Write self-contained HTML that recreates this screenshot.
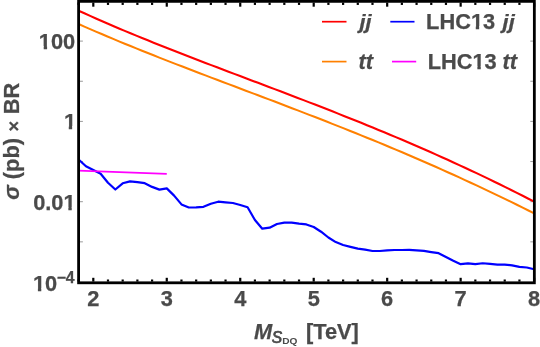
<!DOCTYPE html>
<html><head><meta charset="utf-8"><title>plot</title>
<style>
html,body{margin:0;padding:0;background:#fff;}
body{width:540px;height:347px;overflow:hidden;}
svg{display:block;}
text{font-family:"Liberation Sans",sans-serif;font-weight:bold;font-size:21.8px;fill:#4a4a4a;stroke:#4a4a4a;stroke-width:0.25px;stroke-linejoin:miter;}
.it{font-style:italic;}
</style></head><body>
<svg width="540" height="347" viewBox="0 0 540 347" style="will-change:transform">
<rect x="0" y="0" width="540" height="347" fill="#ffffff"/>
<g stroke="#555" stroke-width="0.6">
<line x1="80.00" y1="241.85" x2="82.90" y2="241.85"/>
<line x1="532.95" y1="241.85" x2="530.35" y2="241.85"/>
<line x1="80.00" y1="201.70" x2="82.90" y2="201.70"/>
<line x1="532.95" y1="201.70" x2="530.35" y2="201.70"/>
<line x1="80.00" y1="161.55" x2="82.90" y2="161.55"/>
<line x1="532.95" y1="161.55" x2="530.35" y2="161.55"/>
<line x1="80.00" y1="121.40" x2="82.90" y2="121.40"/>
<line x1="532.95" y1="121.40" x2="530.35" y2="121.40"/>
<line x1="80.00" y1="81.25" x2="82.90" y2="81.25"/>
<line x1="532.95" y1="81.25" x2="530.35" y2="81.25"/>
<line x1="80.00" y1="41.10" x2="82.90" y2="41.10"/>
<line x1="532.95" y1="41.10" x2="530.35" y2="41.10"/>
</g>
<g fill="none" stroke-linejoin="round" stroke-linecap="butt">
<path d="M78.60,24.01 L84.37,26.57 L90.13,29.09 L95.90,31.59 L101.67,34.06 L107.44,36.51 L113.20,38.93 L118.97,41.33 L124.74,43.71 L130.50,46.07 L136.27,48.41 L142.04,50.73 L147.81,53.03 L153.57,55.32 L159.34,57.60 L165.11,59.86 L170.87,62.11 L176.64,64.35 L182.41,66.57 L188.17,68.79 L193.94,71.00 L199.71,73.20 L205.48,75.40 L211.24,77.59 L217.01,79.78 L222.78,81.96 L228.54,84.14 L234.31,86.32 L240.08,88.49 L245.85,90.67 L251.61,92.85 L257.38,95.03 L263.15,97.21 L268.91,99.39 L274.68,101.58 L280.45,103.78 L286.22,105.97 L291.98,108.18 L297.75,110.39 L303.52,112.61 L309.28,114.84 L315.05,117.07 L320.82,119.32 L326.58,121.57 L332.35,123.84 L338.12,126.12 L343.89,128.41 L349.65,130.71 L355.42,133.02 L361.19,135.35 L366.95,137.69 L372.72,140.05 L378.49,142.42 L384.26,144.81 L390.02,147.21 L395.79,149.63 L401.56,152.06 L407.32,154.52 L413.09,156.99 L418.86,159.47 L424.63,161.98 L430.39,164.50 L436.16,167.05 L441.93,169.61 L447.69,172.19 L453.46,174.79 L459.23,177.42 L464.99,180.06 L470.76,182.72 L476.53,185.40 L482.30,188.10 L488.06,190.83 L493.83,193.57 L499.60,196.34 L505.36,199.13 L511.13,201.94 L516.90,204.77 L522.67,207.62 L528.43,210.49 L534.20,213.39" stroke="#ff8000" stroke-width="2.05"/>
<path d="M78.60,10.69 L84.37,13.31 L90.13,15.91 L95.90,18.47 L101.67,21.00 L107.44,23.50 L113.20,25.98 L118.97,28.43 L124.74,30.86 L130.50,33.26 L136.27,35.64 L142.04,38.00 L147.81,40.34 L153.57,42.66 L159.34,44.97 L165.11,47.25 L170.87,49.53 L176.64,51.79 L182.41,54.04 L188.17,56.27 L193.94,58.50 L199.71,60.71 L205.48,62.92 L211.24,65.12 L217.01,67.32 L222.78,69.50 L228.54,71.69 L234.31,73.87 L240.08,76.05 L245.85,78.23 L251.61,80.41 L257.38,82.59 L263.15,84.77 L268.91,86.95 L274.68,89.13 L280.45,91.32 L286.22,93.52 L291.98,95.72 L297.75,97.92 L303.52,100.14 L309.28,102.36 L315.05,104.59 L320.82,106.83 L326.58,109.08 L332.35,111.34 L338.12,113.62 L343.89,115.90 L349.65,118.20 L355.42,120.51 L361.19,122.84 L366.95,125.18 L372.72,127.53 L378.49,129.91 L384.26,132.30 L390.02,134.70 L395.79,137.13 L401.56,139.57 L407.32,142.03 L413.09,144.51 L418.86,147.01 L424.63,149.53 L430.39,152.07 L436.16,154.63 L441.93,157.21 L447.69,159.81 L453.46,162.44 L459.23,165.09 L464.99,167.76 L470.76,170.45 L476.53,173.17 L482.30,175.91 L488.06,178.67 L493.83,181.46 L499.60,184.27 L505.36,187.11 L511.13,189.97 L516.90,192.86 L522.67,195.77 L528.43,198.71 L534.20,201.67" stroke="#ff0000" stroke-width="2.1"/>
<path d="M78.61,159.50 L85.95,166.30 L93.30,170.10 L100.65,173.70 L107.99,182.70 L115.34,189.50 L122.69,183.30 L130.03,181.35 L137.38,182.10 L144.73,183.20 L152.08,186.90 L159.42,189.60 L166.77,188.40 L174.12,195.60 L181.46,204.40 L188.81,207.50 L196.16,207.30 L203.50,206.80 L210.85,203.70 L218.20,201.70 L225.55,202.40 L232.89,203.00 L240.24,205.00 L247.59,207.30 L254.93,220.00 L262.28,228.70 L269.63,227.70 L276.98,224.00 L284.32,222.70 L291.67,222.70 L299.02,223.70 L306.36,224.45 L313.71,227.00 L321.06,231.70 L328.40,237.50 L335.75,242.10 L343.10,245.00 L350.44,246.85 L357.79,248.60 L365.14,249.60 L372.49,251.00 L379.83,251.00 L387.18,250.40 L394.53,250.00 L401.87,250.00 L409.22,249.90 L416.57,250.30 L423.92,250.90 L431.26,252.10 L438.61,253.20 L445.96,256.95 L453.30,260.70 L460.65,264.20 L468.00,263.40 L475.34,264.20 L482.69,263.25 L490.04,263.90 L497.38,264.60 L504.73,264.60 L512.08,265.40 L519.43,266.90 L526.77,267.50 L534.12,269.20" stroke="#0000ff" stroke-width="2.2"/>
<path d="M78.6,170.6 L166.77,173.9" stroke="#ff00ff" stroke-width="1.85"/>
</g>
<g stroke="#000" stroke-width="2.2">
<line x1="78.61" y1="281.60" x2="78.61" y2="279.50"/>
<line x1="78.61" y1="2.55" x2="78.61" y2="4.95"/>
<line x1="93.30" y1="281.60" x2="93.30" y2="277.80"/>
<line x1="93.30" y1="2.55" x2="93.30" y2="6.70"/>
<line x1="107.99" y1="281.60" x2="107.99" y2="279.50"/>
<line x1="107.99" y1="2.55" x2="107.99" y2="4.95"/>
<line x1="122.69" y1="281.60" x2="122.69" y2="279.50"/>
<line x1="122.69" y1="2.55" x2="122.69" y2="4.95"/>
<line x1="137.38" y1="281.60" x2="137.38" y2="279.50"/>
<line x1="137.38" y1="2.55" x2="137.38" y2="4.95"/>
<line x1="152.08" y1="281.60" x2="152.08" y2="279.50"/>
<line x1="152.08" y1="2.55" x2="152.08" y2="4.95"/>
<line x1="166.77" y1="281.60" x2="166.77" y2="277.80"/>
<line x1="166.77" y1="2.55" x2="166.77" y2="6.70"/>
<line x1="181.46" y1="281.60" x2="181.46" y2="279.50"/>
<line x1="181.46" y1="2.55" x2="181.46" y2="4.95"/>
<line x1="196.16" y1="281.60" x2="196.16" y2="279.50"/>
<line x1="196.16" y1="2.55" x2="196.16" y2="4.95"/>
<line x1="210.85" y1="281.60" x2="210.85" y2="279.50"/>
<line x1="210.85" y1="2.55" x2="210.85" y2="4.95"/>
<line x1="225.55" y1="281.60" x2="225.55" y2="279.50"/>
<line x1="225.55" y1="2.55" x2="225.55" y2="4.95"/>
<line x1="240.24" y1="281.60" x2="240.24" y2="277.80"/>
<line x1="240.24" y1="2.55" x2="240.24" y2="6.70"/>
<line x1="254.93" y1="281.60" x2="254.93" y2="279.50"/>
<line x1="254.93" y1="2.55" x2="254.93" y2="4.95"/>
<line x1="269.63" y1="281.60" x2="269.63" y2="279.50"/>
<line x1="269.63" y1="2.55" x2="269.63" y2="4.95"/>
<line x1="284.32" y1="281.60" x2="284.32" y2="279.50"/>
<line x1="284.32" y1="2.55" x2="284.32" y2="4.95"/>
<line x1="299.02" y1="281.60" x2="299.02" y2="279.50"/>
<line x1="299.02" y1="2.55" x2="299.02" y2="4.95"/>
<line x1="313.71" y1="281.60" x2="313.71" y2="277.80"/>
<line x1="313.71" y1="2.55" x2="313.71" y2="6.70"/>
<line x1="328.40" y1="281.60" x2="328.40" y2="279.50"/>
<line x1="328.40" y1="2.55" x2="328.40" y2="4.95"/>
<line x1="343.10" y1="281.60" x2="343.10" y2="279.50"/>
<line x1="343.10" y1="2.55" x2="343.10" y2="4.95"/>
<line x1="357.79" y1="281.60" x2="357.79" y2="279.50"/>
<line x1="357.79" y1="2.55" x2="357.79" y2="4.95"/>
<line x1="372.49" y1="281.60" x2="372.49" y2="279.50"/>
<line x1="372.49" y1="2.55" x2="372.49" y2="4.95"/>
<line x1="387.18" y1="281.60" x2="387.18" y2="277.80"/>
<line x1="387.18" y1="2.55" x2="387.18" y2="6.70"/>
<line x1="401.87" y1="281.60" x2="401.87" y2="279.50"/>
<line x1="401.87" y1="2.55" x2="401.87" y2="4.95"/>
<line x1="416.57" y1="281.60" x2="416.57" y2="279.50"/>
<line x1="416.57" y1="2.55" x2="416.57" y2="4.95"/>
<line x1="431.26" y1="281.60" x2="431.26" y2="279.50"/>
<line x1="431.26" y1="2.55" x2="431.26" y2="4.95"/>
<line x1="445.96" y1="281.60" x2="445.96" y2="279.50"/>
<line x1="445.96" y1="2.55" x2="445.96" y2="4.95"/>
<line x1="460.65" y1="281.60" x2="460.65" y2="277.80"/>
<line x1="460.65" y1="2.55" x2="460.65" y2="6.70"/>
<line x1="475.34" y1="281.60" x2="475.34" y2="279.50"/>
<line x1="475.34" y1="2.55" x2="475.34" y2="4.95"/>
<line x1="490.04" y1="281.60" x2="490.04" y2="279.50"/>
<line x1="490.04" y1="2.55" x2="490.04" y2="4.95"/>
<line x1="504.73" y1="281.60" x2="504.73" y2="279.50"/>
<line x1="504.73" y1="2.55" x2="504.73" y2="4.95"/>
<line x1="519.43" y1="281.60" x2="519.43" y2="279.50"/>
<line x1="519.43" y1="2.55" x2="519.43" y2="4.95"/>
<line x1="534.12" y1="281.60" x2="534.12" y2="277.80"/>
<line x1="534.12" y1="2.55" x2="534.12" y2="6.70"/>
</g>
<rect x="78.6" y="1.35" width="455.75" height="281.45" fill="none" stroke="#000" stroke-width="2.8"/>
<!-- y tick labels -->
<text x="75.2" y="48.6" text-anchor="end">100</text>
<text x="76.0" y="128.9" text-anchor="end">1</text>
<text x="75.6" y="209.7" text-anchor="end">0.01</text>
<text x="33" y="290.6">10<tspan font-size="15.8" dy="-8.0" dx="-0.6">−4</tspan></text>
<!-- x tick labels -->
<text x="93.30" y="305.8" text-anchor="middle">2</text><text x="166.77" y="305.8" text-anchor="middle">3</text><text x="240.24" y="305.8" text-anchor="middle">4</text><text x="313.71" y="305.8" text-anchor="middle">5</text><text x="387.18" y="305.8" text-anchor="middle">6</text><text x="460.65" y="305.8" text-anchor="middle">7</text><text x="534.12" y="305.8" text-anchor="middle">8</text>
<!-- axis titles -->
<text x="254" y="339" class="it">M</text>
<text x="271.8" y="342.7" class="it" style="font-size:15.6px;font-weight:normal;stroke:#4a4a4a;stroke-width:0.7px">S</text>
<text x="282.2" y="344.3" style="font-size:9.6px;stroke:none" textLength="15.2" lengthAdjust="spacingAndGlyphs">DQ</text>
<text x="306.0" y="339">[TeV]</text>
<text transform="translate(19.3,199.7) rotate(-90)"><tspan class="it">σ</tspan> (pb) <tspan font-size="18.2" dy="1.1" dx="0.5">×</tspan><tspan dy="-1.1" dx="0.5"> BR</tspan></text>
<!-- legend -->
<g stroke-width="1.7" fill="none">
<line x1="322" y1="21.7" x2="346.5" y2="21.7" stroke="#ff0000"/>
<line x1="390.3" y1="21.7" x2="414.5" y2="21.7" stroke="#0000ff"/>
<line x1="322" y1="61.6" x2="346.5" y2="61.6" stroke="#ff8000"/>
<line x1="392" y1="61.6" x2="416.2" y2="61.6" stroke="#ff00ff"/>
</g>
<text x="359.5" y="29" class="it" style="font-size:20px" textLength="12.1" lengthAdjust="spacingAndGlyphs">jj</text>
<text x="358.6" y="69.4" class="it">tt</text>
<text x="426.1" y="29.3">LHC13</text><text x="502.6" y="29" class="it" style="font-size:20px" textLength="12.1" lengthAdjust="spacingAndGlyphs">jj</text>
<text x="427.7" y="69.4">LHC13 <tspan class="it" dx="-0.3">tt</tspan></text>
<g fill="#ffffff"><rect x="39" y="46" width="4.71" height="4"/><rect x="47.10" y="46" width="3.90" height="4"/><rect x="65" y="126" width="3.76" height="4"/><rect x="72.15" y="126" width="3.85" height="4"/><rect x="64" y="207" width="4.35" height="4"/><rect x="71.74" y="207" width="4.26" height="4"/><rect x="34" y="288" width="3.89" height="4"/><rect x="41.28" y="288" width="3.72" height="4"/><rect x="472" y="26" width="3.77" height="4"/><rect x="479.16" y="26" width="3.84" height="4"/><rect x="473" y="66" width="4.37" height="4"/><rect x="480.76" y="66" width="4.24" height="4"/></g>
</svg>
</body></html>
